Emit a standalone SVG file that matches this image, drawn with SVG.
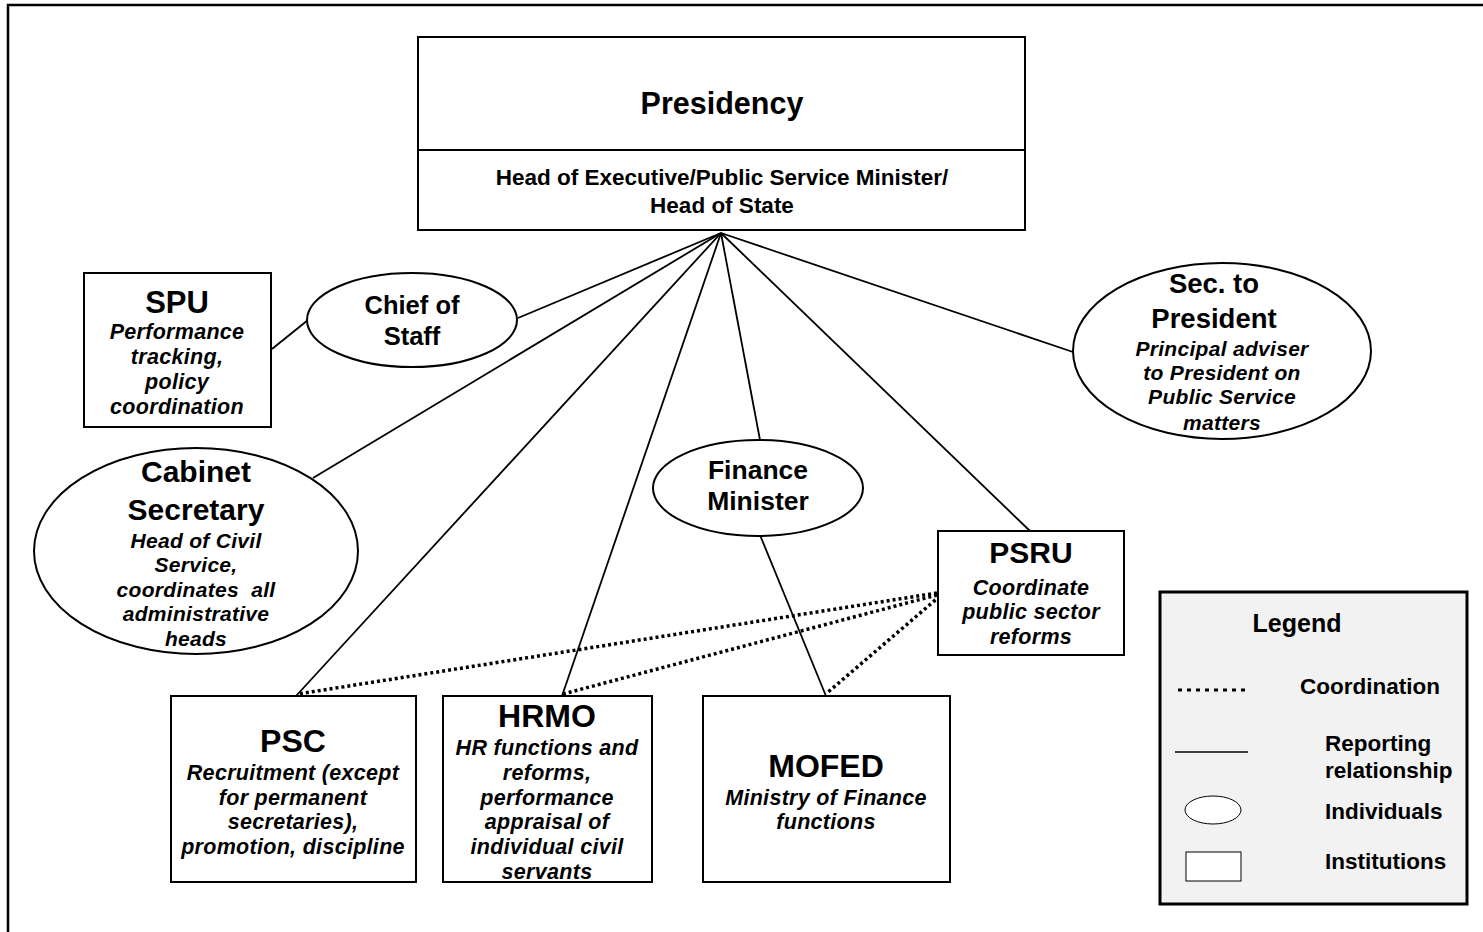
<svg xmlns="http://www.w3.org/2000/svg" width="1483" height="932" viewBox="0 0 1483 932">
<style>
.box{fill:#fff;stroke:#000;stroke-width:2}
.ell{fill:#fff;stroke:#000;stroke-width:2}
.t{font-family:"Liberation Sans",Arial,sans-serif;font-weight:700;fill:#000;text-anchor:middle}
.i{font-style:italic;letter-spacing:0.3px}
.l{text-anchor:start}
.rep{stroke:#000;stroke-width:1.8;fill:none}
.crd{stroke:#000;stroke-width:3.5;stroke-dasharray:3 3;fill:none}
</style>
<rect x="8" y="5" width="1490" height="940" fill="#fff" stroke="#000" stroke-width="2.5"/>
<g id="connectors">
<line class="rep" x1="721" y1="233" x2="518" y2="318"/>
<line class="rep" x1="721" y1="233" x2="313" y2="478"/>
<line class="rep" x1="721" y1="233" x2="296" y2="696"/>
<line class="rep" x1="721" y1="233" x2="562" y2="696"/>
<line class="rep" x1="721" y1="233" x2="760" y2="440"/>
<line class="rep" x1="721" y1="233" x2="1030" y2="531"/>
<line class="rep" x1="721" y1="233" x2="1073" y2="352"/>
<line class="rep" x1="272" y1="349" x2="308" y2="320"/>
<line class="rep" x1="760" y1="535" x2="826" y2="696"/>
<line class="crd" x1="937" y1="593" x2="298" y2="694"/>
<line class="crd" x1="937" y1="595" x2="563" y2="694"/>
<line class="crd" x1="940" y1="596" x2="827" y2="693"/>
</g>
<g id="presidency">
<rect class="box" x="418" y="37" width="607" height="193"/>
<line x1="418" y1="150" x2="1025" y2="150" stroke="#000" stroke-width="2"/>
<text class="t" x="722" y="114" font-size="30.5">Presidency</text>
<text class="t" x="722" y="185" font-size="22.5">Head of Executive/Public Service Minister/</text>
<text class="t" x="722" y="213" font-size="22.5">Head of State</text>
</g>
<g id="spu">
<rect class="box" x="84" y="273" width="187" height="154"/>
<text class="t" x="177" y="313" font-size="31">SPU</text>
<text class="t i" x="177" y="339" font-size="21.5">Performance</text>
<text class="t i" x="177" y="364" font-size="21.5">tracking,</text>
<text class="t i" x="177" y="389" font-size="21.5">policy</text>
<text class="t i" x="177" y="414" font-size="21.5">coordination</text>
</g>
<g id="chief-of-staff">
<ellipse class="ell" cx="412" cy="320" rx="105" ry="47"/>
<text class="t" x="412" y="314" font-size="25.5">Chief of</text>
<text class="t" x="412" y="345" font-size="25.5">Staff</text>
</g>
<g id="sec-to-president">
<ellipse class="ell" cx="1222" cy="351" rx="149" ry="88"/>
<text class="t" x="1214" y="293" font-size="27.5">Sec. to</text>
<text class="t" x="1214" y="328" font-size="27.5">President</text>
<text class="t i" x="1222" y="356" font-size="21">Principal adviser</text>
<text class="t i" x="1222" y="380" font-size="21">to President on</text>
<text class="t i" x="1222" y="404" font-size="21">Public Service</text>
<text class="t i" x="1222" y="430" font-size="21">matters</text>
</g>
<g id="cabinet-secretary">
<ellipse class="ell" cx="196" cy="551" rx="162" ry="103"/>
<text class="t" x="196" y="482" font-size="30">Cabinet</text>
<text class="t" x="196" y="520" font-size="30">Secretary</text>
<text class="t i" x="196" y="548" font-size="21">Head of Civil</text>
<text class="t i" x="196" y="572" font-size="21">Service,</text>
<text class="t i" x="196" y="597" font-size="21" xml:space="preserve">coordinates  all</text>
<text class="t i" x="196" y="621" font-size="21">administrative</text>
<text class="t i" x="196" y="646" font-size="21">heads</text>
</g>
<g id="finance-minister">
<ellipse class="ell" cx="758" cy="488" rx="105" ry="48"/>
<text class="t" x="758" y="479" font-size="26.5">Finance</text>
<text class="t" x="758" y="510" font-size="26.5">Minister</text>
</g>
<g id="psru">
<rect class="box" x="938" y="531" width="186" height="124"/>
<text class="t" x="1031" y="563" font-size="30">PSRU</text>
<text class="t i" x="1031" y="595" font-size="21.5">Coordinate</text>
<text class="t i" x="1031" y="619" font-size="21.5">public sector</text>
<text class="t i" x="1031" y="644" font-size="21.5">reforms</text>
</g>
<g id="psc">
<rect class="box" x="171" y="696" width="245" height="186"/>
<text class="t" x="293" y="752" font-size="32">PSC</text>
<text class="t i" x="293" y="780" font-size="21.5">Recruitment (except</text>
<text class="t i" x="293" y="805" font-size="21.5">for permanent</text>
<text class="t i" x="293" y="829" font-size="21.5">secretaries),</text>
<text class="t i" x="293" y="854" font-size="21.5">promotion, discipline</text>
</g>
<g id="hrmo">
<rect class="box" x="443" y="696" width="209" height="186"/>
<text class="t" x="547" y="727" font-size="32">HRMO</text>
<text class="t i" x="547" y="755" font-size="21.5">HR functions and</text>
<text class="t i" x="547" y="780" font-size="21.5">reforms,</text>
<text class="t i" x="547" y="805" font-size="21.5">performance</text>
<text class="t i" x="547" y="829" font-size="21.5">appraisal of</text>
<text class="t i" x="547" y="854" font-size="21.5">individual civil</text>
<text class="t i" x="547" y="879" font-size="21.5">servants</text>
</g>
<g id="mofed">
<rect class="box" x="703" y="696" width="247" height="186"/>
<text class="t" x="826" y="777" font-size="32">MOFED</text>
<text class="t i" x="826" y="805" font-size="21.5">Ministry of Finance</text>
<text class="t i" x="826" y="829" font-size="21.5">functions</text>
</g>
<g id="legend">
<rect x="1160" y="592" width="307" height="312" fill="#f2f2f2" stroke="#000" stroke-width="3"/>
<text class="t" x="1297" y="632" font-size="25">Legend</text>
<line x1="1178" y1="690" x2="1248" y2="690" stroke="#000" stroke-width="3" stroke-dasharray="4 5"/>
<text class="t l" x="1300" y="694" font-size="22.5">Coordination</text>
<line x1="1175" y1="752" x2="1248" y2="752" stroke="#000" stroke-width="1.5"/>
<text class="t l" x="1325" y="751" font-size="22.5">Reporting</text>
<text class="t l" x="1325" y="778" font-size="22.5">relationship</text>
<ellipse cx="1213" cy="810" rx="28" ry="14" fill="#fff" stroke="#000" stroke-width="1"/>
<text class="t l" x="1325" y="819" font-size="22.5">Individuals</text>
<rect x="1186" y="852" width="55" height="29" fill="#fff" stroke="#000" stroke-width="1"/>
<text class="t l" x="1325" y="869" font-size="22.5">Institutions</text>
</g>
</svg>
